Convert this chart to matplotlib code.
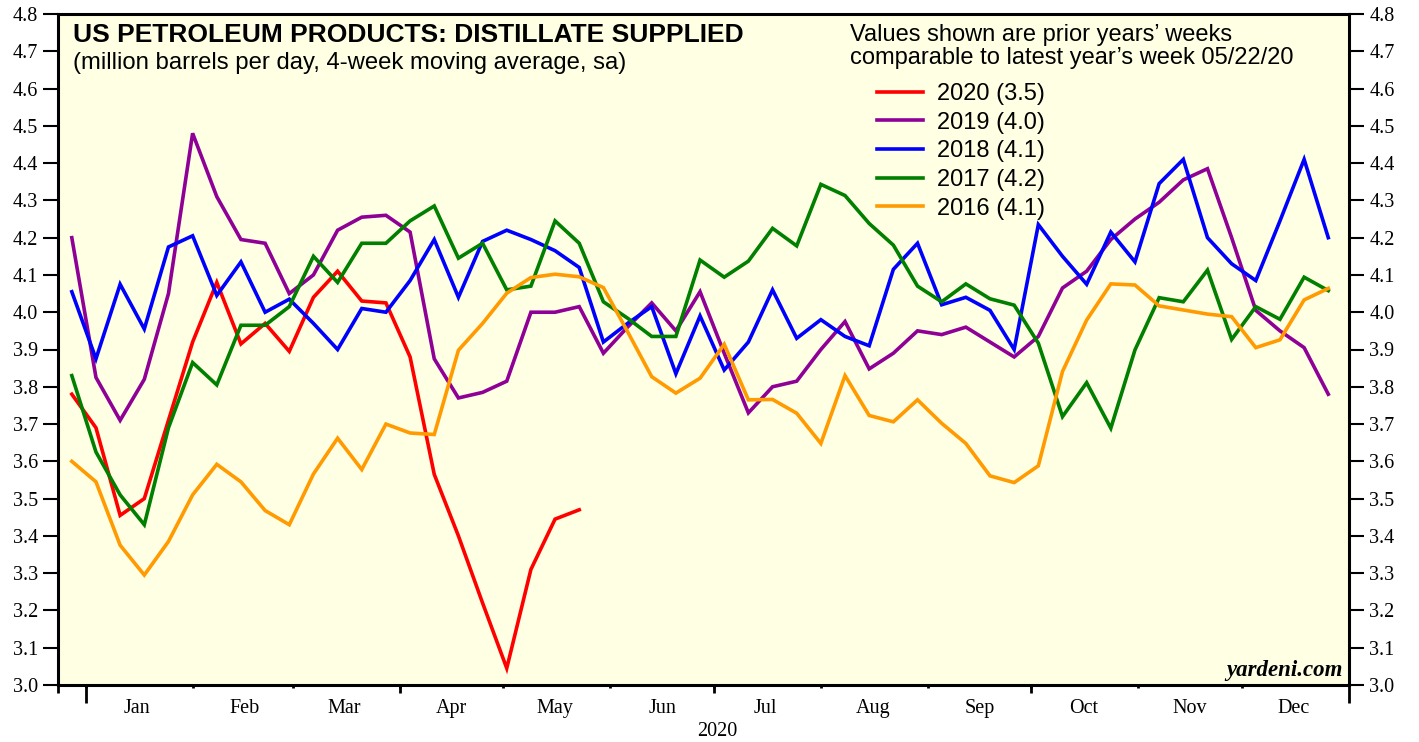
import numpy as np
import matplotlib
matplotlib.use("Agg")
import matplotlib.pyplot as plt

weeks = np.arange(np.datetime64('2019-12-28'), np.datetime64('2020-12-27'), np.timedelta64(7, 'D'))

y2020 = [3.78, 3.69, 3.455, 3.50, 3.71, 3.92, 4.08, 3.915, 3.97, 3.895, 4.04, 4.11, 4.03, 4.025,
         3.88, 3.565, 3.40, 3.22, 3.045, 3.31, 3.445, 3.47]
y2019 = [4.20, 3.825, 3.71, 3.82, 4.05, 4.48, 4.31, 4.195, 4.185, 4.05, 4.10, 4.22, 4.255, 4.26,
         4.215, 3.875, 3.77, 3.785, 3.815, 4.00, 4.00, 4.015, 3.89, 3.96, 4.025, 3.95, 4.055, 3.89,
         3.73, 3.80, 3.815, 3.90, 3.975, 3.848, 3.89, 3.95, 3.94, 3.96, 3.92, 3.88, 3.935, 4.065,
         4.11, 4.195, 4.25, 4.295, 4.355, 4.385, 4.20, 4.005, 3.95, 3.905, 3.78]
y2018 = [4.055, 3.875, 4.075, 3.955, 4.175, 4.205, 4.045, 4.135, 4.00, 4.035, 3.97, 3.90, 4.01,
         4.00, 4.085, 4.195, 4.04, 4.19, 4.22, 4.195, 4.165, 4.12, 3.92, 3.97, 4.015, 3.835, 3.99,
         3.845, 3.92, 4.06, 3.93, 3.98, 3.935, 3.91, 4.115, 4.185, 4.02, 4.04, 4.005, 3.90, 4.235,
         4.15, 4.075, 4.215, 4.135, 4.345, 4.41, 4.20, 4.13, 4.085, 4.245, 4.41, 4.20]
y2017 = [3.83, 3.625, 3.51, 3.43, 3.69, 3.865, 3.805, 3.965, 3.965, 4.015, 4.15, 4.08, 4.185,
         4.185, 4.245, 4.285, 4.145, 4.185, 4.06, 4.07, 4.245, 4.185, 4.028, 3.984, 3.935, 3.935,
         4.14, 4.094, 4.137, 4.225, 4.178, 4.343, 4.313, 4.238, 4.18, 4.07, 4.028, 4.076, 4.036,
         4.019, 3.917, 3.72, 3.811, 3.689, 3.899, 4.039, 4.028, 4.113, 3.927, 4.015, 3.981, 4.094, 4.058]
y2016 = [3.60, 3.545, 3.375, 3.295, 3.385, 3.51, 3.592, 3.545, 3.468, 3.43, 3.566, 3.662, 3.578,
         3.70, 3.676, 3.672, 3.898, 3.97, 4.051, 4.093, 4.102, 4.095, 4.066, 3.948, 3.827, 3.783,
         3.823, 3.914, 3.765, 3.766, 3.729, 3.648, 3.83, 3.723, 3.706, 3.765, 3.702, 3.648, 3.561,
         3.543, 3.588, 3.841, 3.979, 4.076, 4.073, 4.017, 4.006, 3.995, 3.988, 3.905, 3.926, 4.033, 4.064]

labels = ['2020 (3.5)', '2019 (4.0)', '2018 (4.1)', '2017 (4.2)', '2016 (4.1)']
colors = ['#ff0000', '#8e0096', '#0000ff', '#007f00', '#ff9a00']
months = ['Jan', 'Feb', 'Mar', 'Apr', 'May', 'Jun', 'Jul', 'Aug', 'Sep', 'Oct', 'Nov', 'Dec']

sans = 'Liberation Sans'
serif = 'Liberation Serif'
plt.rcParams['font.family'] = serif


def day(s):
    return np.datetime64(s).astype(object)


fig = plt.figure(figsize=(14.19, 7.42), dpi=100)
ax = fig.add_axes([58 / 1419, 57 / 742, 1291 / 1419, 671 / 742])
ax.set_facecolor('#ffffe3')

x = weeks.astype('datetime64[D]').astype(object)
series = [y2020, y2019, y2018, y2017, y2016]
for vals, lab, col in zip(series, labels, colors):
    ax.plot(x[:len(vals)], vals, color=col, lw=2.6, label=lab, solid_joinstyle='miter')

ax.set_ylim(3.0, 4.8)
ax.set_yticks(np.arange(3.0, 4.81, 0.1))
ax.yaxis.set_major_formatter(plt.FormatStrFormatter('%.1f'))
ax.tick_params(axis='y', which='both', direction='out', length=10.5, width=1.5, right=True,
               labelright=True, labelsize=14.5, pad=4)

ax.set_xlim(day('2019-12-24'), day('2021-01-01'))
ax.set_xticks([day('2020-%02d-01' % m) for m in range(1, 13)])
ax.set_xticklabels([''] * 12)
ax.set_xticks([day('2020-%02d-16' % m) for m in range(1, 13)], minor=True)
ax.set_xticklabels(months, minor=True, fontsize=14.5)
ax.tick_params(axis='x', which='major', length=2.5, width=2, direction='out')
ax.tick_params(axis='x', which='minor', length=0, pad=10)

qtr = ax.secondary_xaxis('bottom')
qtr.set_xticks([day(d) for d in ['2019-12-24', '2020-04-01', '2020-07-01', '2020-10-01']])
qtr.tick_params(length=5.5, width=2, labelbottom=False)
qtr.spines['bottom'].set_visible(False)
yr = ax.secondary_xaxis('bottom')
yr.set_xticks([day('2020-01-01'), day('2021-01-01')])
yr.tick_params(length=13, width=2, labelbottom=False)
yr.spines['bottom'].set_visible(False)

for s in ax.spines.values():
    s.set_linewidth(2.2)

ax.text(day('2020-07-02'), -0.07, '2020', transform=ax.get_xaxis_transform(),
        ha='center', va='center', fontsize=14.5)

ax.text(0.0116, 0.969, 'US PETROLEUM PRODUCTS: DISTILLATE SUPPLIED', transform=ax.transAxes,
        fontfamily=sans, fontweight='bold', fontsize=19, va='center', ha='left')
ax.text(0.0116, 0.927, '(million barrels per day, 4-week moving average, sa)', transform=ax.transAxes,
        fontfamily=sans, fontsize=17.2, va='center', ha='left')
ax.text(0.6135, 0.969, 'Values shown are prior years\u2019 weeks', transform=ax.transAxes,
        fontfamily=sans, fontsize=17, va='center', ha='left')
ax.text(0.6135, 0.934, 'comparable to latest year\u2019s week 05/22/20', transform=ax.transAxes,
        fontfamily=sans, fontsize=17, va='center', ha='left')

ax.legend(loc='upper left', bbox_to_anchor=(0.6344, 0.897), frameon=False,
          prop={'family': sans, 'size': 17}, handlelength=1.95, handletextpad=0.6,
          labelspacing=0.28, borderaxespad=0, borderpad=0)

ax.text(0.9954, 0.0134, 'yardeni.com', transform=ax.transAxes, ha='right', va='baseline',
        fontweight='bold', fontstyle='italic', fontsize=16.5)

fig.savefig('out.png', dpi=100, facecolor='white')
